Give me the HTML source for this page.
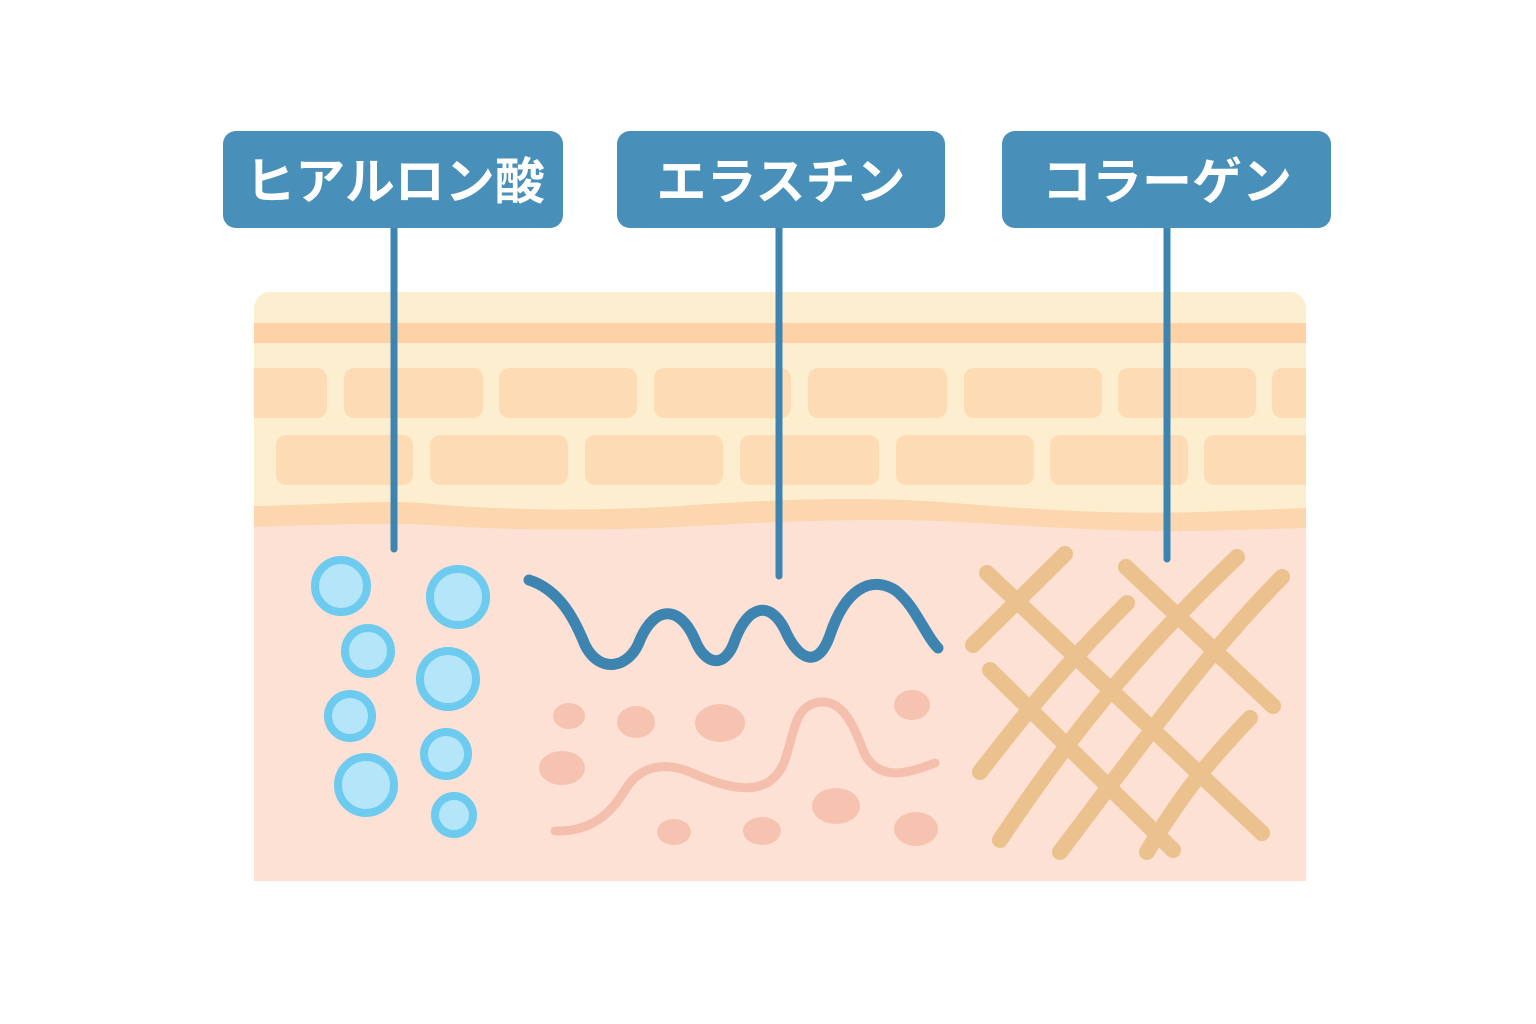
<!DOCTYPE html>
<html><head><meta charset="utf-8"><style>
html,body{margin:0;padding:0;background:#fff;}
svg{display:block;}
</style></head><body>
<svg width="1536" height="1024" viewBox="0 0 1536 1024" xmlns="http://www.w3.org/2000/svg">
<defs><clipPath id="skin"><rect x="254" y="292" width="1052" height="589" rx="16"/><rect x="254" y="500" width="1052" height="381"/></clipPath></defs>
<g clip-path="url(#skin)">
<rect x="254" y="292" width="1052" height="600" fill="#fdeecf"/>
<rect x="254" y="323" width="1052" height="20" fill="#fcd2a6"/>
<g fill="#fddcb5">
<rect x="240" y="368" width="87" height="50" rx="10"/>
<rect x="344" y="368" width="139" height="50" rx="10"/>
<rect x="499" y="368" width="138" height="50" rx="10"/>
<rect x="654" y="368" width="137" height="50" rx="10"/>
<rect x="808" y="368" width="139" height="50" rx="10"/>
<rect x="964" y="368" width="138" height="50" rx="10"/>
<rect x="1118" y="368" width="138" height="50" rx="10"/>
<rect x="1272" y="368" width="60" height="50" rx="10"/>
<rect x="276" y="435" width="137" height="50" rx="10"/>
<rect x="430" y="435" width="138" height="50" rx="10"/>
<rect x="585" y="435" width="138" height="50" rx="10"/>
<rect x="740" y="435" width="139" height="50" rx="10"/>
<rect x="896" y="435" width="138" height="50" rx="10"/>
<rect x="1050" y="435" width="138" height="50" rx="10"/>
<rect x="1204" y="435" width="130" height="50" rx="10"/>
</g>
<path d="M254 506 C320 505 370 500 420 503 C500 510 580 512 680 506 C760 500 860 496 940 502 C1020 508 1100 515 1200 512 L1306 508 L1306 900 L254 900 Z" fill="#fcd6ae"/>
<path d="M254 527 C320 525 380 522 430 525 C500 530 580 531 680 527 C760 522 860 518 940 521 C1020 525 1100 532 1200 531 L1306 528 L1306 900 L254 900 Z" fill="#fde1d5"/>
</g>
<g stroke="#3d85b0" stroke-width="7" stroke-linecap="round">
<line x1="394" y1="225" x2="394" y2="549"/>
<line x1="779" y1="225" x2="779" y2="576"/>
<line x1="1167" y1="225" x2="1167" y2="559"/>
</g>
<g fill="#488fba">
<rect x="223" y="131" width="340" height="97" rx="13"/>
<rect x="617" y="131" width="328" height="97" rx="13"/>
<rect x="1002" y="131" width="329" height="97" rx="13"/>
</g>
<g fill="#fff" font-family="'Liberation Sans','Noto Sans CJK JP',sans-serif" font-weight="bold" font-size="50" text-anchor="middle">
<text x="395" y="199">ヒアルロン酸</text>
<text x="781" y="199">エラスチン</text>
<text x="1167" y="199">コラーゲン</text>
</g>
<g fill="#b4e5f8" stroke="#6ccbee" stroke-width="8">
<circle cx="341" cy="586" r="26"/>
<circle cx="458" cy="597" r="28"/>
<circle cx="368" cy="651" r="23"/>
<circle cx="448" cy="679" r="28"/>
<circle cx="350" cy="716" r="22"/>
<circle cx="446" cy="754" r="22"/>
<circle cx="366" cy="785" r="28"/>
<circle cx="454" cy="815" r="19"/>
</g>
<path d="M529 580 C560 590 575 620 585 645 C600 675 630 668 640 640 C655 605 680 605 695 640 C705 665 725 670 735 640 C748 605 770 600 785 630 C798 660 818 670 830 635 C845 590 870 575 895 590 C915 605 925 635 938 648" fill="none" stroke="#3d85b0" stroke-width="11" stroke-linecap="round"/>
<g fill="#f6c3b0">
<ellipse cx="569" cy="716" rx="16" ry="13"/>
<ellipse cx="636" cy="722" rx="19" ry="16"/>
<ellipse cx="720" cy="723" rx="25" ry="19"/>
<ellipse cx="912" cy="705" rx="18" ry="15"/>
<ellipse cx="562" cy="768" rx="23" ry="17"/>
<ellipse cx="836" cy="806" rx="24" ry="18"/>
<ellipse cx="674" cy="832" rx="17" ry="13"/>
<ellipse cx="762" cy="831" rx="19" ry="14"/>
<ellipse cx="916" cy="829" rx="22" ry="17"/>
</g>
<path d="M555 831 C590 832 610 815 625 790 C640 765 665 762 690 772 C730 790 770 800 785 760 C795 730 795 705 820 702 C845 700 855 730 865 755 C880 780 905 775 935 763" fill="none" stroke="#f5bfad" stroke-width="9" stroke-linecap="round"/>
<g stroke="#ebc18e" stroke-width="16" stroke-linecap="round" fill="none">
<line x1="987" y1="573" x2="1262" y2="833"/>
<line x1="1126" y1="567" x2="1273" y2="706"/>
<line x1="1065" y1="554" x2="973" y2="645"/>
<path d="M1127 603 C1060 670 1020 720 980 772"/>
<path d="M1237 557 C1150 640 1080 720 1000 840"/>
<path d="M1282 577 C1200 660 1130 760 1060 852"/>
<line x1="990" y1="670" x2="1173" y2="850"/>
<path d="M1250 718 C1200 770 1175 805 1147 852"/>
</g>
</svg>
</body></html>
